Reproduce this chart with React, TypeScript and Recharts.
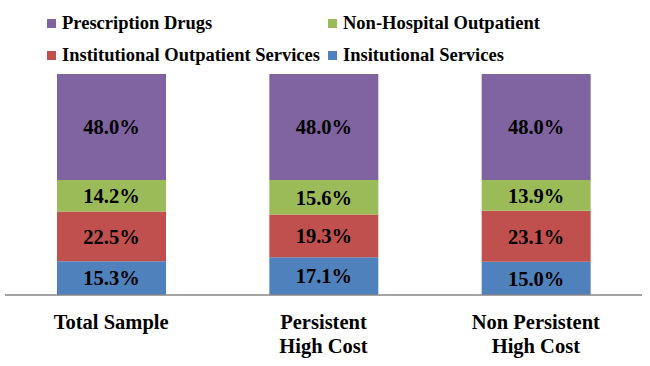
import { BarChart, Bar, XAxis, YAxis, Legend, LabelList } from 'recharts'

const CATEGORIES = ['Total Sample', 'Persistent\nHigh Cost', 'Non Persistent\nHigh Cost']
const INSITUTIONAL = [15.3, 17.1, 15.0]
const INST_OUTPATIENT = [22.5, 19.3, 23.1]
const NON_HOSPITAL = [14.2, 15.6, 13.9]
const PRESCRIPTION = [48.0, 48.0, 48.0]

const SERIES = [
	{ key: 'inst', name: 'Insitutional Services', color: '#4F81BD' },
	{ key: 'instOut', name: 'Institutional Outpatient Services', color: '#C0504D' },
	{ key: 'nonHosp', name: 'Non-Hospital Outpatient', color: '#9BBB59' },
	{ key: 'rx', name: 'Prescription Drugs', color: '#8064A2' },
]

// legend order as drawn in the reference (two columns)
const LEGEND_ITEMS = [
	{ name: 'Prescription Drugs', color: '#8064A2', x: 42, y: 15 },
	{ name: 'Non-Hospital Outpatient', color: '#9BBB59', x: 323, y: 15 },
	{ name: 'Institutional Outpatient Services', color: '#C0504D', x: 42, y: 47 },
	{ name: 'Insitutional Services', color: '#4F81BD', x: 323, y: 47 },
]

const FONT = "'Liberation Serif', 'DejaVu Serif', serif"

const data = CATEGORIES.map((name, i) => ({
	name,
	inst: INSITUTIONAL[i],
	instOut: INST_OUTPATIENT[i],
	nonHosp: NON_HOSPITAL[i],
	rx: PRESCRIPTION[i],
}))

function renderLegend() {
	return (
		<div style={{ position: 'relative', width: 640, height: 66 }}>
			{LEGEND_ITEMS.map((item) => (
				<div
					key={item.name}
					style={{
						position: 'absolute',
						left: item.x,
						top: item.y - 11,
						height: 22,
						display: 'flex',
						alignItems: 'center',
						whiteSpace: 'nowrap',
						fontFamily: FONT,
						fontWeight: 'bold',
						fontSize: 18.5,
						color: '#000',
					}}
				>
					<span style={{ display: 'inline-block', width: 9, height: 9, background: item.color, marginRight: 6 }} />
					{item.name}
				</div>
			))}
		</div>
	)
}

function CategoryTick({ x, y, payload }: any) {
	const lines = String(payload.value).split('\n')
	return (
		<text x={x} y={y} textAnchor="middle" style={{ fontFamily: FONT }} fontWeight="bold" fontSize={20.5} fill="#000">
			{lines.map((line, i) => (
				<tspan key={i} x={x} dy={i === 0 ? 26 : 24}>
					{line}
				</tspan>
			))}
		</text>
	)
}

export default function App() {
	return (
		<div style={{ position: 'absolute', left: 0, top: 0, background: '#fff', fontFamily: FONT }}>
			<BarChart width={650} height={366} data={data} margin={{ top: 8, right: 8, bottom: 11, left: 5 }}>
				<Legend verticalAlign="top" align="left" content={renderLegend} height={66} />
				<XAxis
					dataKey="name"
					axisLine={{ stroke: '#868686', strokeWidth: 1.5 }}
					tickLine={false}
					interval={0}
					height={60}
					tick={<CategoryTick />}
				/>
				<YAxis hide domain={[0, 100]} />
				{SERIES.map((s) => (
					<Bar key={s.key} dataKey={s.key} name={s.name} stackId="a" fill={s.color} barSize={109} isAnimationActive={false}>
						<LabelList
							dataKey={s.key}
							position="center"
							formatter={(v: any) => `${Number(v).toFixed(1)}%`}
							fill="#000"
							style={{ fontFamily: FONT }}
							fontWeight="bold"
							fontSize={20.5}
						/>
					</Bar>
				))}
			</BarChart>
		</div>
	)
}
